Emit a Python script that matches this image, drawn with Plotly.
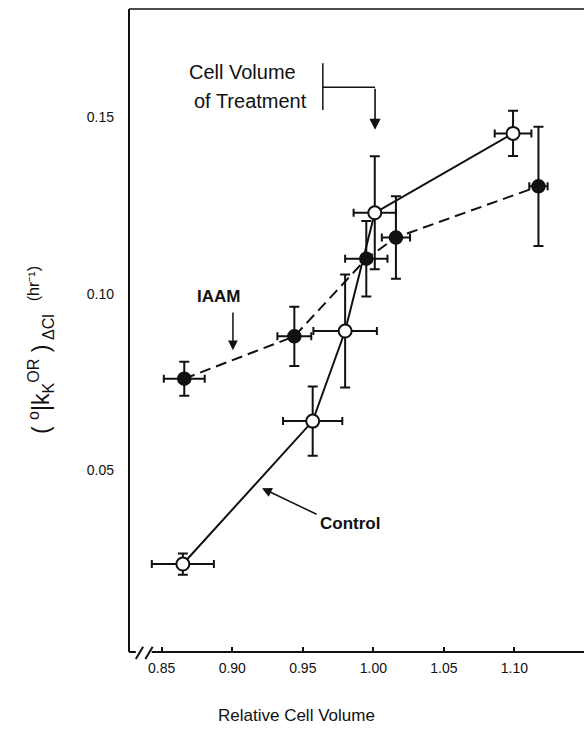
import plotly.graph_objects as go

# Rate coefficient vs. relative cell volume, control and IAAM-treated cells
control_x = [0.865, 0.957, 0.980, 1.001, 1.099]
control_y = [0.0235, 0.064, 0.0895, 0.123, 0.1455]
control_xerr = [0.022, 0.021, 0.0225, 0.015, 0.013]
control_yerr = [0.003, 0.0098, 0.016, 0.016, 0.0064]

iaam_x = [0.866, 0.944, 0.995, 1.016, 1.117]
iaam_y = [0.076, 0.088, 0.110, 0.116, 0.1305]
iaam_xerr = [0.0145, 0.012, 0.015, 0.010, 0.0065]
iaam_yerr = [0.0048, 0.0084, 0.0107, 0.0117, 0.0169]

x_ticks = [0.85, 0.90, 0.95, 1.00, 1.05, 1.10]
x_ticktext = ["0.85", "0.90", "0.95", "1.00", "1.05", "1.10"]
y_ticks = [0.05, 0.10, 0.15]
y_ticktext = ["0.05", "0.10", "0.15"]

FONT = "Liberation Sans, Arial, Helvetica, sans-serif"
INK = "#111111"

fig = go.Figure()

fig.add_trace(go.Scatter(
    x=iaam_x, y=iaam_y, mode="lines+markers",
    line=dict(color=INK, width=2, dash="11px,6px"),
    marker=dict(size=13, color=INK, line=dict(color=INK, width=1.5)),
    error_x=dict(type="data", array=iaam_xerr, color=INK, thickness=2, width=4),
    error_y=dict(type="data", array=iaam_yerr, color=INK, thickness=2, width=5),
    showlegend=False, hoverinfo="skip",
))
fig.add_trace(go.Scatter(
    x=control_x, y=control_y, mode="lines+markers",
    line=dict(color=INK, width=2),
    marker=dict(size=13, color="white", line=dict(color=INK, width=2)),
    error_x=dict(type="data", array=control_xerr, color=INK, thickness=2, width=4),
    error_y=dict(type="data", array=control_yerr, color=INK, thickness=2, width=5),
    showlegend=False, hoverinfo="skip",
))

# Frame: left and top lines, bottom axis with a break near the origin
frame = dict(color=INK, width=2)
shapes = [
    dict(type="line", xref="x domain", yref="y domain", x0=0, x1=0, y0=0, y1=1, line=frame),
    dict(type="line", xref="x domain", yref="y domain", x0=0, x1=1, y0=1, y1=1,
         line=dict(color=INK, width=1.5)),
    dict(type="line", xref="x domain", yref="y domain", x0=0, x1=0.015, y0=0, y1=0, line=frame),
    dict(type="line", xref="x domain", yref="y domain", x0=0.05, x1=1, y0=0, y1=0, line=frame),
    dict(type="line", xref="x domain", yref="y domain", x0=0.015, x1=0.031, y0=-0.011, y1=0.008, line=frame),
    dict(type="line", xref="x domain", yref="y domain", x0=0.036, x1=0.052, y0=-0.011, y1=0.008, line=frame),
    # bracket marking the treatment volume
    dict(type="line", xref="x", yref="y", x0=0.9642, x1=0.9642, y0=0.1521, y1=0.1654,
         line=dict(color=INK, width=1.5)),
    dict(type="line", xref="x", yref="y", x0=0.9642, x1=1.0012, y0=0.1586, y1=0.1586,
         line=dict(color=INK, width=1.5)),
]

annotations = [
    dict(x=1.0012, y=0.1465, ax=1.0012, ay=0.1586, xref="x", yref="y", axref="x", ayref="y",
         text="", showarrow=True, arrowhead=2, arrowsize=1.4, arrowwidth=1.6, arrowcolor=INK,
         standoff=0),
    dict(x=0.9467, y=0.1628, xref="x", yref="y", text="Cell Volume", showarrow=False,
         xanchor="right", yanchor="middle", font=dict(family=FONT, size=20, color=INK)),
    dict(x=0.9544, y=0.1546, xref="x", yref="y", text="of Treatment", showarrow=False,
         xanchor="right", yanchor="middle", font=dict(family=FONT, size=20, color=INK)),
    dict(x=0.8899, y=0.0994, xref="x", yref="y", text="<b>IAAM</b>", showarrow=False,
         xanchor="center", yanchor="middle", font=dict(family=FONT, size=17, color=INK)),
    dict(x=0.9005, y=0.0841, ax=0.9005, ay=0.0952, xref="x", yref="y", axref="x", ayref="y",
         text="", showarrow=True, arrowhead=2, arrowsize=1.3, arrowwidth=1.5, arrowcolor=INK,
         standoff=0),
    dict(x=0.9834, y=0.0351, xref="x", yref="y", text="<b>Control</b>", showarrow=False,
         xanchor="center", yanchor="middle", font=dict(family=FONT, size=17, color=INK)),
    dict(x=0.9211, y=0.0450, ax=0.9608, ay=0.0374, xref="x", yref="y", axref="x", ayref="y",
         text="", showarrow=True, arrowhead=2, arrowsize=1.3, arrowwidth=1.5, arrowcolor=INK,
         standoff=0),
    dict(x=0.369, y=-0.098, xref="paper", yref="paper", text="Relative Cell Volume",
         showarrow=False, xanchor="center", yanchor="middle",
         font=dict(family=FONT, size=17, color=INK)),
    dict(x=-0.1956, y=0.4697, xref="paper", yref="paper", textangle=-90,
         text="( <sup>o</sup>|k<sub>K</sub><sup>OR</sup> )<sub> ΔCl</sub>  <sup>(hr⁻¹)</sup>",
         showarrow=False, xanchor="center", yanchor="middle",
         font=dict(family=FONT, size=23, color=INK)),
]

fig.update_layout(
    width=584, height=737,
    margin=dict(l=129, r=0, t=9, b=85),
    paper_bgcolor="white", plot_bgcolor="white",
    font=dict(family=FONT, color=INK),
    shapes=shapes, annotations=annotations,
    xaxis=dict(range=[0.82683, 1.14928], tickvals=x_ticks, ticktext=x_ticktext,
               ticks="inside", ticklen=5, tickwidth=2, tickcolor=INK,
               showgrid=False, zeroline=False, showline=False,
               tickfont=dict(family=FONT, size=14, color=INK), ticklabelstandoff=6),
    yaxis=dict(range=[-0.00142, 0.18074], tickvals=y_ticks, ticktext=y_ticktext,
               ticks="", showgrid=False, zeroline=False, showline=False,
               tickfont=dict(family=FONT, size=14, color=INK), ticklabelstandoff=14),
)

fig.write_html("out.html")
